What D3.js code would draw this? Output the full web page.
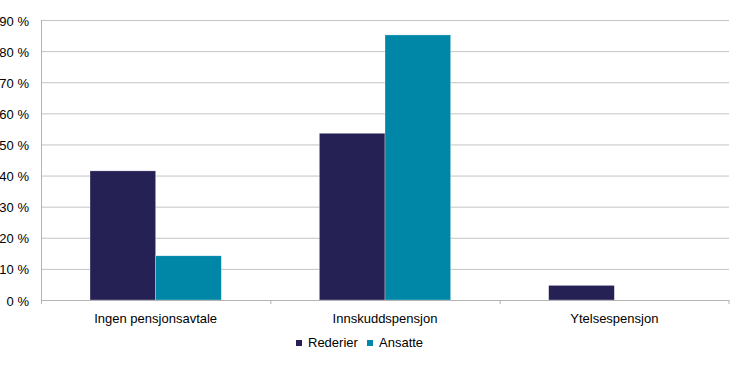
<!DOCTYPE html>
<html>
<head>
<meta charset="utf-8">
<script src="https://cdn.jsdelivr.net/npm/d3@7"></script>
<style>
  body { margin: 0; background: #fff; }
  text { font-family: "Liberation Sans", Arial, sans-serif; fill: #000; }
</style>
</head>
<body>
<svg id="chart" width="730" height="369"></svg>
<script>
var categories = ["Ingen pensjonsavtale", "Innskuddspensjon", "Ytelsespensjon"];
var seriesNames = ["Rederier", "Ansatte"];
var rederier = [41.5, 53.6, 4.7];
var ansatte  = [14.2, 85.2, 0];
var yTicks   = [0, 10, 20, 30, 40, 50, 60, 70, 80, 90];
var colors   = ["#252154", "#0086a6"];

var svg = d3.select("#chart");
var margin = { left: 41, right: 1, top: 20, bottom: 69 };
var width  = 730 - margin.left - margin.right;
var height = 369 - margin.top - margin.bottom;

var g = svg.append("g").attr("transform", "translate(" + margin.left + "," + margin.top + ")");

var x = d3.scaleBand().domain(categories).range([0, width]).paddingInner(0).paddingOuter(0);
var x1 = d3.scaleBand().domain(seriesNames).range([49, x.bandwidth() - 49]).padding(0);
var y = d3.scaleLinear().domain([0, 90]).range([height, 0]);

// grid
g.append("g").selectAll("line").data(yTicks.slice(1)).enter().append("line")
	.attr("x1", 0).attr("x2", width)
	.attr("y1", function(d){ return y(d) + 0.5; })
	.attr("y2", function(d){ return y(d) + 0.5; })
	.attr("stroke", "#c4c4c4").attr("stroke-width", 1);

// y labels
g.append("g").selectAll("text").data(yTicks).enter().append("text")
	.attr("x", -12).attr("y", function(d){ return y(d) + 1; })
	.attr("dy", "0.35em")
	.attr("text-anchor", "end")
	.style("font-size", "13px")
	.text(function(d){ return d + " %"; });

// bars
var data = categories.map(function(c, i){ return { cat: c, values: [rederier[i], ansatte[i]] }; });
var groups = g.selectAll("g.cat").data(data).enter().append("g").attr("class", "cat")
	.attr("transform", function(d){ return "translate(" + x(d.cat) + ",0)"; });
groups.selectAll("rect").data(function(d){ return d.values.map(function(v, j){ return { s: seriesNames[j], v: v, j: j }; }); })
	.enter().append("rect")
	.filter(function(d){ return d.v > 0; })
	.attr("x", function(d){ return x1(d.s); })
	.attr("width", x1.bandwidth())
	.attr("y", function(d){ return y(d.v); })
	.attr("height", function(d){ return height - y(d.v); })
	.attr("fill", function(d){ return colors[d.j]; })
	.attr("stroke", "#ffffff").attr("stroke-width", 0.5).attr("stroke-opacity", 0.6);

// axes lines
g.append("line").attr("x1", 0.5).attr("x2", 0.5).attr("y1", 0).attr("y2", height)
	.attr("stroke", "#b4b4b4");
g.append("line").attr("x1", 0).attr("x2", width).attr("y1", height + 0.5).attr("y2", height + 0.5)
	.attr("stroke", "#b4b4b4");
var bounds = categories.map(function(c){ return x(c); }).concat([width]);
g.append("g").selectAll("line").data(bounds).enter().append("line")
	.attr("x1", function(d){ return Math.min(d, width - 0.5) + 0.5; })
	.attr("x2", function(d){ return Math.min(d, width - 0.5) + 0.5; })
	.attr("y1", height).attr("y2", height + 4)
	.attr("stroke", "#b4b4b4");

// x labels
g.append("g").selectAll("text").data(categories).enter().append("text")
	.attr("x", function(d){ return x(d) + x.bandwidth() / 2; })
	.attr("y", height + 23)
	.attr("text-anchor", "middle")
	.style("font-size", "13px")
	.text(function(d){ return d; });

// legend
var legend = svg.append("g").attr("transform", "translate(296,347)");
var legendX = [0, 71];
seriesNames.forEach(function(s, i){
	legend.append("rect").attr("x", legendX[i]).attr("y", -7).attr("width", 6).attr("height", 6)
		.attr("fill", colors[i]);
	legend.append("text").attr("x", legendX[i] + 12).attr("y", 0)
		.style("font-size", "13px").text(s);
});
</script>
</body>
</html>
